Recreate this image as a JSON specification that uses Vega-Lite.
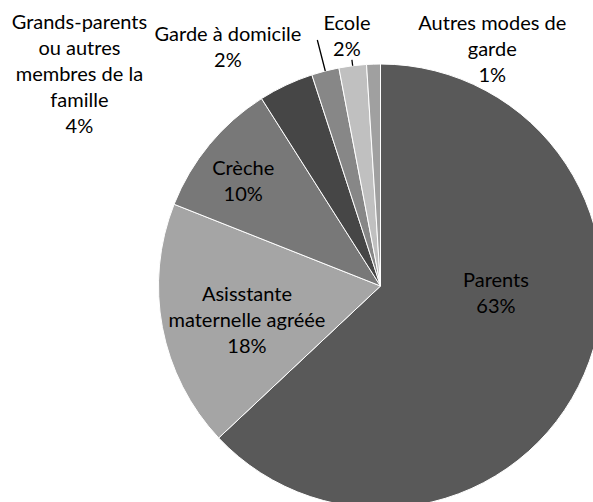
{
  "$schema": "https://vega.github.io/schema/vega-lite/v6.json",
  "width": 593,
  "height": 502,
  "autosize": {"type": "none"},
  "padding": 0,
  "background": "white",
  "config": {"view": {"stroke": null}},
  "data": {
    "values": [
      {"cat": "Parents", "value": 63, "rank": 1, "label": "Parents\n63%"},
      {"cat": "Asisstante maternelle agréée", "value": 18, "rank": 2, "label": "Asisstante\nmaternelle agréée\n18%"},
      {"cat": "Crèche", "value": 10, "rank": 3, "label": "Crèche\n10%"},
      {"cat": "Grands-parents ou autres membres de la famille", "value": 4, "rank": 4, "label": "Grands-parents\nou autres\nmembres de la\nfamille\n4%"},
      {"cat": "Garde à domicile", "value": 2, "rank": 5, "label": "Garde à domicile\n2%"},
      {"cat": "Ecole", "value": 2, "rank": 6, "label": "Ecole\n2%"},
      {"cat": "Autres modes de garde", "value": 1, "rank": 7, "label": "Autres modes de\ngarde\n1%"}
    ]
  },
  "encoding": {
    "theta": {"field": "value", "type": "quantitative", "stack": true},
    "order": {"field": "rank", "type": "quantitative"},
    "detail": {"field": "cat", "type": "nominal"}
  },
  "layer": [
    {
      "mark": {"type": "arc", "x": 380.5, "y": 286, "radius": 222, "stroke": "white", "strokeWidth": 1},
      "encoding": {
        "color": {
          "field": "cat",
          "type": "nominal",
          "scale": {
            "domain": ["Parents", "Asisstante maternelle agréée", "Crèche", "Grands-parents ou autres membres de la famille", "Garde à domicile", "Ecole", "Autres modes de garde"],
            "range": ["#595959", "#a5a5a5", "#787878", "#464646", "#878787", "#c0c0c0", "#a0a0a0"]
          },
          "legend": null
        }
      }
    },
    {
      "transform": [
        {"stack": "value", "groupby": [], "sort": [{"field": "rank"}], "as": ["v0", "v1"]},
        {"filter": "datum.cat === 'Garde à domicile'"}
      ],
      "mark": {"type": "arc", "x": 380.5, "y": 286, "radius": 254, "radius2": 222, "thetaOffset": 0.0628, "theta2Offset": 0.0628, "fillOpacity": 0, "stroke": "#000000", "strokeWidth": 1.3},
      "encoding": {
        "theta": {"field": "v0", "type": "quantitative", "stack": null},
        "theta2": {"field": "v0"}
      }
    },
    {
      "transform": [
        {"stack": "value", "groupby": [], "sort": [{"field": "rank"}], "as": ["v0", "v1"]},
        {"filter": "datum.cat === 'Ecole'"}
      ],
      "mark": {"type": "arc", "x": 380.5, "y": 286, "radius": 228, "radius2": 222, "thetaOffset": 0.0628, "theta2Offset": 0.0628, "fillOpacity": 0, "stroke": "#000000", "strokeWidth": 1.3},
      "encoding": {
        "theta": {"field": "v0", "type": "quantitative", "stack": null},
        "theta2": {"field": "v0"}
      }
    },
    {
      "mark": {"type": "text", "x": 380.5, "y": 286, "radius": 116, "dx": 9, "dy": -51, "lineBreak": "\n", "font": "Lato", "fontSize": 20, "lineHeight": 26, "align": "center", "baseline": "middle", "color": "#000000"},
      "encoding": {"text": {"condition": {"test": "datum.cat === 'Parents'", "field": "label", "type": "nominal"}, "value": ""}}
    },
    {
      "mark": {"type": "text", "x": 380.5, "y": 286, "radius": 138, "dx": 2, "dy": -17, "lineBreak": "\n", "font": "Lato", "fontSize": 20, "lineHeight": 26, "align": "center", "baseline": "middle", "color": "#000000"},
      "encoding": {"text": {"condition": {"test": "datum.cat === 'Asisstante maternelle agréée'", "field": "label", "type": "nominal"}, "value": ""}}
    },
    {
      "mark": {"type": "text", "x": 380.5, "y": 286, "radius": 173, "dx": -4, "dy": -7, "lineBreak": "\n", "font": "Lato", "fontSize": 20, "lineHeight": 26, "align": "center", "baseline": "middle", "color": "#000000"},
      "encoding": {"text": {"condition": {"test": "datum.cat === 'Crèche'", "field": "label", "type": "nominal"}, "value": ""}}
    },
    {
      "mark": {"type": "text", "x": 380.5, "y": 286, "radius": 369, "dx": -144, "dy": 71, "lineBreak": "\n", "font": "Lato", "fontSize": 20, "lineHeight": 26, "align": "center", "baseline": "middle", "color": "#000000"},
      "encoding": {"text": {"condition": {"test": "datum.cat === 'Grands-parents ou autres membres de la famille'", "field": "label", "type": "nominal"}, "value": ""}}
    },
    {
      "mark": {"type": "text", "x": 380.5, "y": 286, "radius": 284, "dx": -82, "dy": 24, "lineBreak": "\n", "font": "Lato", "fontSize": 20, "lineHeight": 26, "align": "center", "baseline": "middle", "color": "#000000"},
      "encoding": {"text": {"condition": {"test": "datum.cat === 'Garde à domicile'", "field": "label", "type": "nominal"}, "value": ""}}
    },
    {
      "mark": {"type": "text", "x": 380.5, "y": 286, "radius": 252, "dx": -2, "dy": -12, "lineBreak": "\n", "font": "Lato", "fontSize": 20, "lineHeight": 26, "align": "center", "baseline": "middle", "color": "#000000"},
      "encoding": {"text": {"condition": {"test": "datum.cat === 'Ecole'", "field": "label", "type": "nominal"}, "value": ""}}
    },
    {
      "mark": {"type": "text", "x": 380.5, "y": 286, "radius": 262, "dx": 120, "dy": 0, "lineBreak": "\n", "font": "Lato", "fontSize": 20, "lineHeight": 26, "align": "center", "baseline": "middle", "color": "#000000"},
      "encoding": {"text": {"condition": {"test": "datum.cat === 'Autres modes de garde'", "field": "label", "type": "nominal"}, "value": ""}}
    }
  ]
}
